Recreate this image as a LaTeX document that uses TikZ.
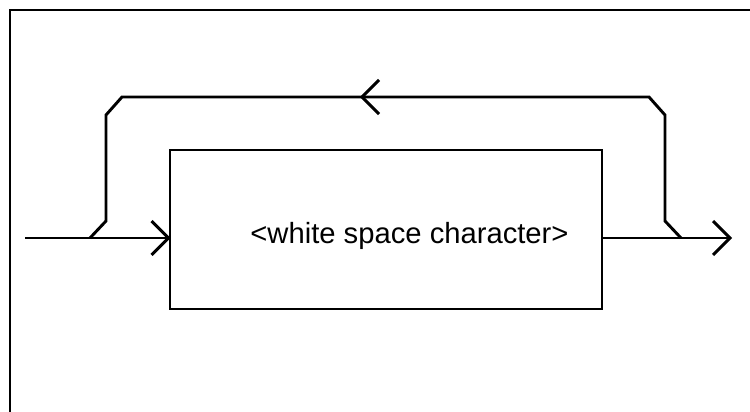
\documentclass[tikz,border=0pt]{standalone}
\usepackage{fontspec}
\setmainfont{Liberation Sans}
\usetikzlibrary{calc}
\begin{document}
\begin{tikzpicture}[x=0.75pt,y=-0.75pt,
  ln/.style={line width=2.2pt, line join=miter},
  boxst/.style={draw, line width=2.2pt, minimum width=432*0.75pt, minimum height=159*0.75pt, inner sep=0pt},
  lbl/.style={font=\fontsize{21.9}{26}\selectfont, inner sep=0pt}]
\useasboundingbox (0,0) rectangle (750,411);
% frame
\coordinate (fbl) at (10,412);
\coordinate (ftl) at (10,10);
\coordinate (ftr) at (751,10);
\draw[ln] (fbl) -- (ftl) -- (ftr);
% box
\node[boxst] (box) at (386,229.5) {};
\node[lbl] (txt) at (409.5,236) {<white space character>};
% main line
\coordinate (in) at (25,238);
\coordinate (out) at (730,238);
\coordinate (tin) at (in -| box.west);
\draw[ln] (in) -- (tin);
\draw[ln] ($(tin)+(-17,-17)$) -- (tin) -- ($(tin)+(-17,17)$);
\draw[ln] (box.east |- out) -- (out);
\draw[ln] ($(out)+(-17,-17)$) -- (out) -- ($(out)+(-17,17)$);
% loop
\coordinate (l0) at (90,238);
\coordinate (l1) at (106,221);
\coordinate (l2) at (106,115);
\coordinate (l3) at (122,97);
\coordinate (m) at (362,97);
\coordinate (r3) at (649,97);
\coordinate (r2) at (665,115);
\coordinate (r1) at (665,221);
\coordinate (r0) at (681,238);
\draw[ln] (r0) -- (r1) -- (r2) -- (r3) -- (m) -- (l3) -- (l2) -- (l1) -- (l0);
\draw[ln] ($(m)+(17,-17)$) -- (m) -- ($(m)+(17,17)$);
\end{tikzpicture}
\end{document}
